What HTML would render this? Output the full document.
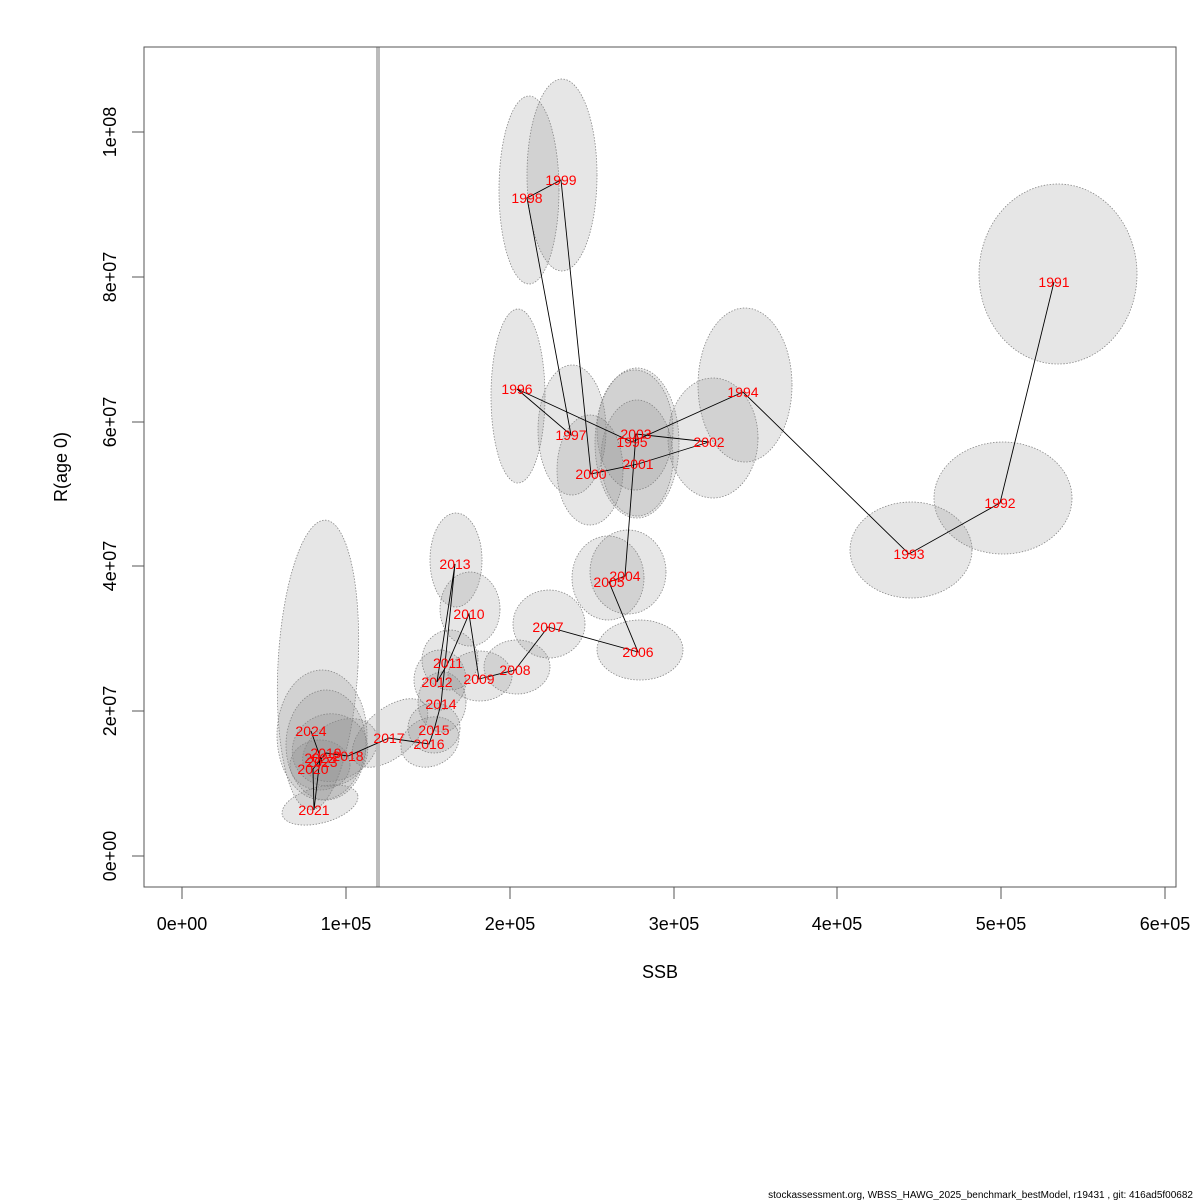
<!DOCTYPE html>
<html><head><meta charset="utf-8"><style>body{margin:0;background:#fff}svg{display:block}</style></head><body>
<svg width="1200" height="1200" xmlns="http://www.w3.org/2000/svg" font-family="Liberation Sans, sans-serif">
<rect width="1200" height="1200" fill="#fff"/>
<g fill="rgba(128,128,128,0.2)" stroke="#888" stroke-width="0.8" stroke-dasharray="1.5,1.5">
<ellipse cx="1058" cy="274" rx="79" ry="90"/>
<ellipse cx="1003" cy="498" rx="69" ry="56"/>
<ellipse cx="911" cy="550" rx="61" ry="48"/>
<ellipse cx="745" cy="385" rx="47" ry="77"/>
<ellipse cx="518" cy="396" rx="27" ry="87"/>
<ellipse cx="529" cy="190" rx="30" ry="94"/>
<ellipse cx="562" cy="175" rx="35" ry="96"/>
<ellipse cx="572" cy="430" rx="34" ry="65"/>
<ellipse cx="590" cy="470" rx="33" ry="55"/>
<ellipse cx="713" cy="438" rx="45" ry="60"/>
<ellipse cx="635" cy="430" rx="38" ry="60"/>
<ellipse cx="637" cy="443" rx="42" ry="75"/>
<ellipse cx="637" cy="458" rx="36" ry="58"/>
<ellipse cx="628" cy="572" rx="38" ry="42"/>
<ellipse cx="608" cy="578" rx="36" ry="42"/>
<ellipse cx="640" cy="650" rx="43" ry="30"/>
<ellipse cx="549" cy="624" rx="36" ry="34"/>
<ellipse cx="517" cy="667" rx="33" ry="27"/>
<ellipse cx="480" cy="676" rx="32" ry="25"/>
<ellipse cx="470" cy="609" rx="30" ry="37"/>
<ellipse cx="456" cy="560" rx="26" ry="47"/>
<ellipse cx="450" cy="660" rx="28" ry="30"/>
<ellipse cx="440" cy="680" rx="26" ry="30"/>
<ellipse cx="442" cy="702" rx="24" ry="30"/>
<ellipse cx="434" cy="728" rx="26" ry="25"/>
<ellipse cx="430" cy="742" rx="30" ry="24" transform="rotate(-25 430 742)"/>
<ellipse cx="390" cy="733" rx="45" ry="24" transform="rotate(-40 390 733)"/>
<ellipse cx="318" cy="665" rx="40" ry="145" transform="rotate(3 318 665)"/>
<ellipse cx="320" cy="805" rx="39" ry="18" transform="rotate(-15 320 805)"/>
<ellipse cx="322" cy="735" rx="45" ry="65"/>
<ellipse cx="326" cy="745" rx="40" ry="55"/>
<ellipse cx="330" cy="750" rx="38" ry="36" transform="rotate(-20 330 750)"/>
<ellipse cx="320" cy="765" rx="30" ry="25"/>
<ellipse cx="340" cy="750" rx="40" ry="28" transform="rotate(-30 340 750)"/>
</g>
<line x1="378" y1="47" x2="378" y2="887" stroke="#bbb" stroke-width="4"/>
<polyline fill="none" stroke="#000" stroke-width="0.9" points="1054,282 1000,503 909,554 743,392 632,442 517,389 571,435 527,198 561,180 591,474 638,464 709,442 636,434 625,576 609,582 638,652 548,627 515,670 479,679 469,614 448,663 437,682 455,564 441,704 434,730 429,744 389,738 348,756 326,753 313,769 314,810 320,758 322,762 311,731"/>
<g fill="#f00" font-size="14" text-anchor="middle" dominant-baseline="central">
<text x="1054" y="282">1991</text><text x="1000" y="503">1992</text><text x="909" y="554">1993</text><text x="743" y="392">1994</text><text x="632" y="442">1995</text><text x="517" y="389">1996</text><text x="571" y="435">1997</text><text x="527" y="198">1998</text><text x="561" y="180">1999</text><text x="591" y="474">2000</text><text x="638" y="464">2001</text><text x="709" y="442">2002</text><text x="636" y="434">2003</text><text x="625" y="576">2004</text><text x="609" y="582">2005</text><text x="638" y="652">2006</text><text x="548" y="627">2007</text><text x="515" y="670">2008</text><text x="479" y="679">2009</text><text x="469" y="614">2010</text><text x="448" y="663">2011</text><text x="437" y="682">2012</text><text x="455" y="564">2013</text><text x="441" y="704">2014</text><text x="434" y="730">2015</text><text x="429" y="744">2016</text><text x="389" y="738">2017</text><text x="348" y="756">2018</text><text x="326" y="753">2019</text><text x="313" y="769">2020</text><text x="314" y="810">2021</text><text x="320" y="758">2022</text><text x="322" y="762">2023</text><text x="311" y="731">2024</text>
</g>
<rect x="144" y="47" width="1032" height="840" fill="none" stroke="#555" stroke-width="1"/>
<g stroke="#555">
<line x1="182" y1="887" x2="182" y2="899"/><line x1="346" y1="887" x2="346" y2="899"/><line x1="510" y1="887" x2="510" y2="899"/><line x1="674" y1="887" x2="674" y2="899"/><line x1="837" y1="887" x2="837" y2="899"/><line x1="1001" y1="887" x2="1001" y2="899"/><line x1="1165" y1="887" x2="1165" y2="899"/>
<line x1="132" y1="856" x2="144" y2="856"/><line x1="132" y1="711" x2="144" y2="711"/><line x1="132" y1="566" x2="144" y2="566"/><line x1="132" y1="422" x2="144" y2="422"/><line x1="132" y1="277" x2="144" y2="277"/><line x1="132" y1="132" x2="144" y2="132"/>
</g>
<g font-size="18" text-anchor="middle" fill="#000">
<text x="182" y="930">0e+00</text><text x="346" y="930">1e+05</text><text x="510" y="930">2e+05</text><text x="674" y="930">3e+05</text><text x="837" y="930">4e+05</text><text x="1001" y="930">5e+05</text><text x="1165" y="930">6e+05</text>
<text transform="translate(116,856) rotate(-90)">0e+00</text><text transform="translate(116,711) rotate(-90)">2e+07</text><text transform="translate(116,566) rotate(-90)">4e+07</text><text transform="translate(116,422) rotate(-90)">6e+07</text><text transform="translate(116,277) rotate(-90)">8e+07</text><text transform="translate(116,132) rotate(-90)">1e+08</text>
<text x="660" y="978">SSB</text>
<text transform="translate(67,467) rotate(-90)">R(age 0)</text>
</g>
<text x="1193" y="1198" font-size="10" text-anchor="end" fill="#000">stockassessment.org, WBSS_HAWG_2025_benchmark_bestModel, r19431 , git: 416ad5f00682</text>
</svg>
</body></html>
